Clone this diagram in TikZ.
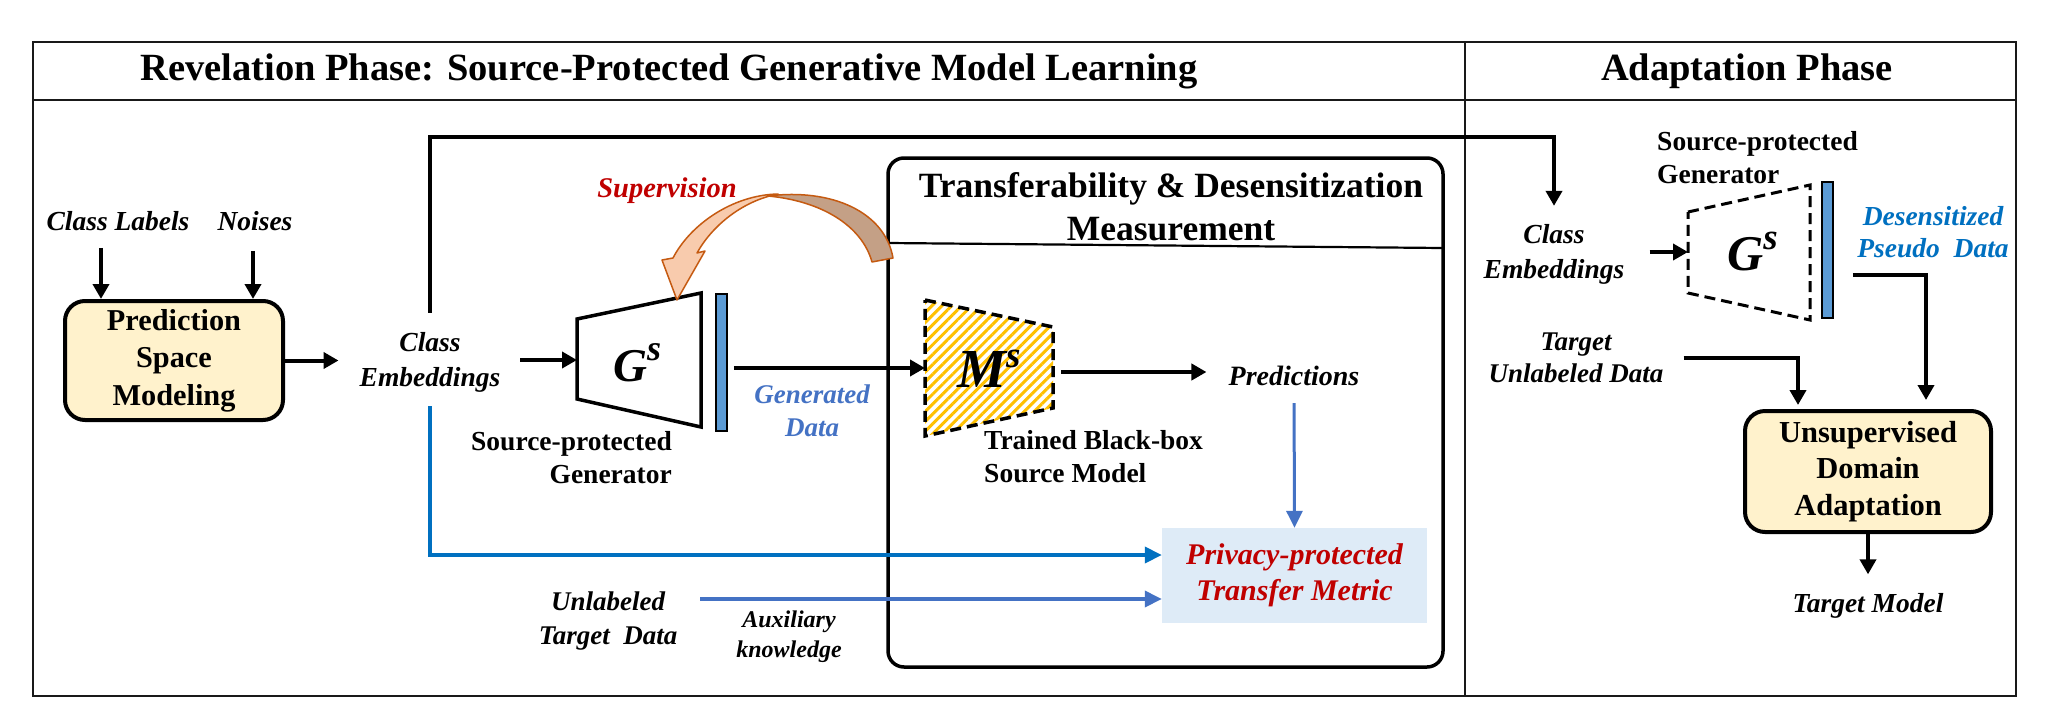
\documentclass[tikz,border=0pt]{standalone}
\usepackage{fontspec}
\setmainfont{Liberation Serif}
\usetikzlibrary{arrows.meta,patterns.meta}
\definecolor{boxy}{HTML}{FFF2CC}
\definecolor{barblue}{HTML}{5B9BD5}
\definecolor{gdblue}{HTML}{4472C4}
\definecolor{redc}{HTML}{C00000}
\definecolor{dblue}{HTML}{0070C0}
\definecolor{pmblue}{HTML}{DEEBF7}
\definecolor{hatchy}{HTML}{FFC000}
\definecolor{orng}{HTML}{C55A11}
\definecolor{peach}{HTML}{F8CBAD}
\definecolor{suptan}{HTML}{C4A086}
\newcommand\fsz[2]{\fontsize{#1}{#2}\selectfont}
\begin{document}
\begin{tikzpicture}[x=1pt,y=-1pt,
  txt/.style={inner sep=0pt, align=center},
  frame/.style={line width=2.7pt, draw=black!90},
  arr/.style={line width=4pt, -{Triangle[length=15pt,width=16pt]}},
  barr/.style={line width=3.8pt, draw=dblue, -{Triangle[length=17pt,width=16pt,fill=dblue]}},
  barrb/.style={line width=3.6pt, draw=gdblue, -{Triangle[length=17pt,width=16pt,fill=gdblue]}},
  ybox/.style={draw, line width=4pt, rounded corners=20pt, fill=boxy, align=center, inner sep=0pt},
  trap/.style={line width=3.5pt, line join=miter},
  dtrap/.style={line width=3.5pt, dash pattern=on 11pt off 6pt, line join=miter},
  bar/.style={draw, line width=1.8pt, fill=barblue, minimum width=11pt, inner sep=0pt},
  ital/.style={txt, font=\fsz{27.5}{35}\bfseries\itshape},
  bld/.style={txt, font=\fsz{27.5}{33}\bfseries}
]
\useasboundingbox (0,0) rectangle (2058,723);
\fill[white] (0,0) rectangle (2058,723);

% frame
\draw[frame] (33,42) rectangle (2016,696);
\draw[frame] (33,100) -- (2016,100);
\draw[frame] (1465,42) -- (1465,696);
\node[txt, font=\fsz{38.5}{44}\bfseries] (h1) at (669,71) {Revelation Phase: Source-Protected Generative Model Learning};
\node[txt, font=\fsz{38.5}{44}\bfseries] (h2) at (1747,71) {Adaptation Phase};

% transferability box
\draw[line width=3.5pt, rounded corners=16pt] (888,158) rectangle (1443,667);
\draw[line width=2.2pt] (888,243) -- (1443,248);
\node[txt, font=\fsz{35.5}{43}\bfseries] (tdm) at (1171,207) {Transferability \& Desensitization\\Measurement};

% left inputs
\node[ital] (cl) at (118,221) {Class Labels};
\node[ital] (noi) at (255,221) {Noises};
\node[ybox, minimum width=218pt, minimum height=119pt, font=\fsz{30.3}{37.5}\bfseries] (psm) at (174,360.5) {Prediction\\Space\\Modeling};
\coordinate (clA) at ([xshift=-17pt]cl.south);
\coordinate (noA) at ([xshift=-2pt]noi.south);
\draw[arr, shorten <=17pt] (clA) -- (clA |- psm.north);
\draw[arr, shorten <=20pt] (noA) -- (noA |- psm.north);

% class embeddings (left)
\node[ital] (ce) at (430,362) {Class\\Embeddings};
\draw[arr, shorten >=21pt] (psm.east) -- (ce.west |- psm.east);

% generator G^s
\coordinate (g1a) at (577,319);
\coordinate (g1b) at (701,293);
\coordinate (g1c) at (701,427);
\coordinate (g1d) at (577,399);
\draw[trap, fill=white] (g1a) -- (g1b) -- (g1c) -- (g1d) -- cycle;
\node[anchor=base west, inner sep=0pt, font=\fsz{47}{50}\bfseries\itshape] (g1) at (613,381) {G\raisebox{21pt}{\fsz{36}{36}s}};
\coordinate (g1in) at (577,360);
\draw[arr, shorten <=20pt] (ce.east |- g1in) -- (g1in);
\node[bar, minimum height=137pt] (bar1) at (721.5,362.5) {};
\node[bld, anchor=east, align=right, font=\fsz{27.5}{33}\bfseries] (spg) at (672,458) {Source-protected\\Generator};
\node[txt, font=\fsz{27}{33}\bfseries\itshape, text=gdblue] (gd) at (812,411) {Generated\\Data};

% black-box model M^s
\coordinate (m1a) at (925,300);
\coordinate (m1b) at (1053,327);
\coordinate (m1c) at (1053,408);
\coordinate (m1d) at (925,436);
\fill[white] (m1a) -- (m1b) -- (m1c) -- (m1d) -- cycle;
\path[pattern={Lines[angle=45,distance=7pt,line width=3pt]}, pattern color=hatchy] (m1a) -- (m1b) -- (m1c) -- (m1d) -- cycle;
\draw[dtrap] (m1a) -- (m1b) -- (m1c) -- (m1d) -- cycle;
\node[anchor=base west, inner sep=0pt, font=\fsz{55}{58}\bfseries\itshape] (m1) at (957,387) {M\raisebox{20pt}{\fsz{37}{37}s}};
\coordinate (m1in) at (925,368);
\coordinate (m1out) at (1053,372);
\draw[arr, shorten <=6pt] (bar1.east |- m1in) -- (m1in);
\node[bld, anchor=west, align=left] (tbb) at (984,457) {Trained Black-box\\Source Model};

% predictions and metric
\node[ital, font=\fsz{28}{35}\bfseries\itshape] (pred) at (1294,376) {Predictions};
\draw[arr, shorten <=8pt, shorten >=22pt] (m1out) -- (m1out -| pred.west);
\node[fill=pmblue, minimum width=265pt, minimum height=95pt, inner sep=0pt, align=center, font=\fsz{30}{36}\bfseries\itshape, text=redc] (pm) at (1294.5,575.5) {Privacy-protected\\Transfer Metric};
\draw[barrb, line width=3pt, shorten <=17pt] (pred.south) -- (pm.north);
\coordinate (pmL) at ([yshift=20.5pt]pm.west);
\draw[barr, shorten <=14pt] (ce.south) |- (pmL);
\node[ital, font=\fsz{27}{34}\bfseries\itshape] (ul) at (608,621) {Unlabeled\\Target~ Data};
\coordinate (ulA) at (702,599);
\draw[barrb, shorten <=23pt] (ul.east |- ulA) -- (ulA -| pm.west);
\node[txt, font=\fsz{24}{30}\bfseries\itshape] (aux) at (789,637) {Auxiliary\\knowledge};

% supervision arrow
\filldraw[draw=orng, fill=suptan, line width=1.5pt, line join=round] (768,196) .. controls (832,188) and (885,212) .. (893,258) -- (872,262) .. controls (862,226) and (822,201) .. (768,196) -- cycle;
\filldraw[draw=orng, fill=peach, line width=1.5pt, line join=round] (778,194) .. controls (732,195) and (690,225) .. (673,258) -- (662,260) -- (677,300) -- (705,251) -- (697,253) .. controls (712,226) and (742,201) .. (778,194) -- cycle;
\node[txt, font=\fsz{28.5}{34}\bfseries\itshape, text=redc] (sup) at (667,191) {Supervision};

% adaptation phase
\node[ital] (ce2) at (1554,254) {Class\\Embeddings};
\coordinate (rtop) at (1000,137);
\draw[arr, shorten <=19pt, shorten >=18pt] (ce.north) -- (ce.north |- rtop) -| (ce2.north);
\coordinate (g2a) at (1688,212);
\coordinate (g2b) at (1810,185);
\coordinate (g2c) at (1810,320);
\coordinate (g2d) at (1688,293);
\draw[dtrap, line width=3pt, fill=white] (g2a) -- (g2b) -- (g2c) -- (g2d) -- cycle;
\node[anchor=base west, inner sep=0pt, font=\fsz{50}{52}\bfseries\itshape] (g2) at (1727,270) {G\raisebox{21pt}{\fsz{37}{37}s}};
\coordinate (g2in) at (1688,252);
\draw[arr, shorten <=25pt] (ce2.east |- g2in) -- (g2in);
\node[bar, minimum height=136pt] (bar2) at (1827.5,250) {};
\node[bld, anchor=west, align=left] (spg2) at (1657,158) {Source-protected\\Generator};
\node[txt, font=\fsz{27.5}{32}\bfseries\itshape, text=dblue] (dpd) at (1933,232.5) {Desensitized\\Pseudo~ Data};
\node[ital, font=\fsz{27}{32}\bfseries\itshape] (tud) at (1576,358) {Target\\Unlabeled Data};
\node[ybox, minimum width=246pt, minimum height=121pt, font=\fsz{30.5}{36.5}\bfseries] (uda) at (1868,471.5) {Unsupervised\\Domain\\Adaptation};
\coordinate (b2out) at (1852,275);
\draw[arr, shorten <=19pt, shorten >=9pt] (bar2.east |- b2out) -| ([xshift=58pt]uda.north);
\draw[arr, shorten <=20pt, shorten >=4pt] (tud.east) -| ([xshift=-70pt]uda.north);
\node[ital] (tm) at (1868,606) {Target Model};
\draw[arr, shorten >=19pt] (uda.south) -- (tm.north);
\end{tikzpicture}
\end{document}
